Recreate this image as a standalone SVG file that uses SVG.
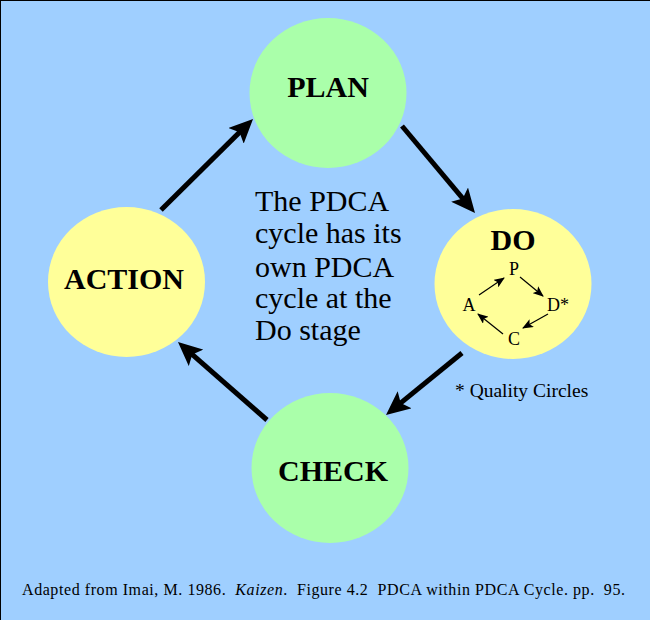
<svg xmlns="http://www.w3.org/2000/svg" width="650" height="620" viewBox="0 0 650 620">
<defs>
<style>
.bg{fill:#9fcfff}
.green{fill:#aaffaa}
.yellow{fill:#ffff99}
.lbl{font-family:"Liberation Serif","Times New Roman",serif;font-weight:bold;font-size:30px;fill:#000;text-anchor:middle}
.txt{font-family:"Liberation Serif","Times New Roman",serif;fill:#000}
.big{stroke:#000;stroke-width:5;fill:none;marker-end:url(#bigHead)}
.small{stroke:#000;stroke-width:1.2;fill:none;marker-end:url(#smallHead)}
</style>
<marker id="bigHead" markerUnits="userSpaceOnUse" viewBox="0 0 24 22" markerWidth="24" markerHeight="22" refX="12" refY="11" orient="auto">
<path d="M24,11 L0,0 L5,11 L0,22 Z" fill="#000"/>
</marker>
<marker id="smallHead" markerUnits="userSpaceOnUse" viewBox="0 0 11 9" markerWidth="11" markerHeight="9" refX="10" refY="4.5" orient="auto">
<path d="M11,4.5 L0,0 L2.5,4.5 L0,9 Z" fill="#000"/>
</marker>
</defs>
<rect class="bg" x="0" y="0" width="650" height="620"/>
<line x1="0.5" y1="0" x2="0.5" y2="620" stroke="#000" stroke-width="1"/>
<line x1="0" y1="0.5" x2="650" y2="0.5" stroke="#000" stroke-width="1"/>

<g id="plan">
<ellipse class="green" cx="328" cy="93" rx="78.5" ry="75"/>
<text class="lbl" x="328" y="97">PLAN</text>
</g>
<g id="do">
<ellipse class="yellow" cx="513" cy="284" rx="78.5" ry="75"/>
<text class="lbl" x="513" y="250">DO</text>
<g class="txt" font-size="18" text-anchor="middle">
<text x="514" y="275">P</text>
<text x="469" y="311">A</text>
<text x="547" y="311" text-anchor="start">D*</text>
<text x="514" y="345">C</text>
</g>
<g id="inner-connectors">
<line class="small" x1="479" y1="295" x2="504" y2="278"/>
<line class="small" x1="520" y1="277" x2="543" y2="296"/>
<line class="small" x1="548" y1="314" x2="523" y2="328"/>
<line class="small" x1="503" y1="334" x2="478" y2="314"/>
</g>
</g>
<g id="check">
<ellipse class="green" cx="330" cy="468" rx="78.5" ry="75"/>
<text class="lbl" x="333" y="481">CHECK</text>
</g>
<g id="action">
<ellipse class="yellow" cx="126.5" cy="282" rx="78.5" ry="75"/>
<text class="lbl" x="124" y="289">ACTION</text>
</g>

<g id="connectors">
<line class="big" x1="161" y1="210" x2="244.5" y2="127.4"/>
<line class="big" x1="402" y1="126" x2="467.3" y2="203.8"/>
<line class="big" x1="462" y1="353" x2="395.3" y2="407.4"/>
<line class="big" x1="267" y1="420" x2="187" y2="349.9"/>
</g>

<g id="center-note" class="txt" font-size="30">
<text x="255" y="211">The PDCA</text>
<text x="255" y="243">cycle has its</text>
<text x="255" y="277">own PDCA</text>
<text x="255" y="308">cycle at the</text>
<text x="255" y="340">Do stage</text>
</g>

<text id="footnote" class="txt" font-size="19.5" x="455" y="397">* Quality Circles</text>

<text id="caption" class="txt" font-size="16" x="22" y="595" xml:space="preserve" textLength="603" lengthAdjust="spacing">Adapted from Imai, M. 1986.  <tspan font-style="italic">Kaizen</tspan>.  Figure 4.2  PDCA within PDCA Cycle. pp.  95.</text>
</svg>
